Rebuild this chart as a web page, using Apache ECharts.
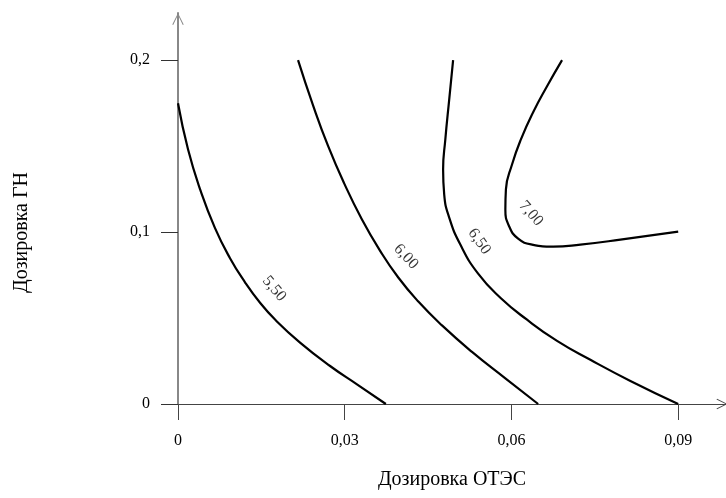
<!DOCTYPE html>
<html>
<head>
<meta charset="utf-8">
<script src="https://cdn.jsdelivr.net/npm/echarts@6/dist/echarts.min.js"></script>
<style>
  html, body { margin: 0; padding: 0; background: #fff; }
  #chart { width: 726px; height: 498px; }
</style>
</head>
<body>
<div id="chart"></div>
<script>
// contour lines: [ОТЭС, ГН]
var line550 = [[0, 0.1749], [0.0018, 0.1481], [0.00396, 0.125], [0.00666, 0.1023], [0.00936, 0.0848],
	[0.01206, 0.0708], [0.01476, 0.0589], [0.01746, 0.0491], [0.02196, 0.0357], [0.02736, 0.0221],
	[0.0324, 0.011], [0.0374, 0]];
var line600 = [[0.0216, 0.2], [0.0243, 0.1737], [0.027, 0.1501], [0.0299, 0.1283], [0.0331, 0.1073],
	[0.0364, 0.0889], [0.0396, 0.0737], [0.0432, 0.0597], [0.0475, 0.0457], [0.0529, 0.0303],
	[0.0589, 0.0149], [0.0648, 0]];
var line650 = [[0.0495, 0.2], [0.0488, 0.1772], [0.0481, 0.1539], [0.0477, 0.1364], [0.0479, 0.1218],
	[0.0488, 0.1084], [0.0508, 0.0927], [0.054, 0.0758], [0.058, 0.0618], [0.0628, 0.049],
	[0.0682, 0.0367], [0.0742, 0.0257], [0.0814, 0.0134], [0.09, 0]];
var line700 = [[0.0691, 0.2], [0.0664, 0.1848], [0.0639, 0.1697], [0.0617, 0.1539], [0.0601, 0.1393],
	[0.059, 0.1248], [0.0589, 0.1131], [0.0596, 0.1032], [0.0612, 0.0962], [0.0637, 0.0927],
	[0.0675, 0.0915], [0.0724, 0.0927], [0.0796, 0.0956], [0.09, 0.1003]];

var levelNames = ['5,50', '6,00', '6,50', '7,00'];
var labelPos = [[0.0173, 0.067], [0.041, 0.0857], [0.0542, 0.0945], [0.0635, 0.1108]];
var labelAngle = [-50, -47, -55, -49];

var xTicks = [0, 0.03, 0.06, 0.09];
var yTicks = [0, 0.1, 0.2];

var serif = '"Liberation Serif", "DejaVu Serif", serif';
var chevron = 'path://M0,10 L5,0 L10,10 L9.2,10.5 L5,1.8 L0.8,10.5 Z';

function fmt(v) {
	return String(+v.toFixed(3)).replace('.', ',');
}

var chart = echarts.init(document.getElementById('chart'));

var contourSeries = [line550, line600, line650, line700].map(function (d, i) {
	return {
		name: levelNames[i],
		type: 'line',
		data: d,
		smooth: 0.5,
		showSymbol: false,
		silent: true,
		lineStyle: { color: '#000', width: 2.2 },
		z: 3
	};
});

var labelSeries = {
	type: 'scatter',
	symbolSize: 0,
	silent: true,
	data: labelPos.map(function (p, i) {
		return {
			value: p,
			label: {
				show: true,
				formatter: levelNames[i],
				rotate: labelAngle[i],
				position: 'inside',
				color: '#000',
				fontFamily: serif,
				fontSize: 16
			}
		};
	}),
	z: 4
};

var option = {
	backgroundColor: '#fff',
	animation: false,
	grid: { left: 178, right: 0, top: 13, bottom: 94 },
	xAxis: {
		type: 'value',
		min: 0,
		max: 0.0986,
		name: 'Дозировка ОТЭС',
		nameLocation: 'middle',
		nameGap: 66,
		nameTextStyle: { fontFamily: serif, fontSize: 20, color: '#000' },
		splitLine: { show: false },
		axisLine: {
			show: true,
			onZero: false,
			symbol: ['none', chevron],
			symbolSize: [22, 11],
			symbolOffset: [0, -4],
			lineStyle: { color: '#444', width: 1 }
		},
		axisTick: {
			show: true,
			length: 16,
			customValues: xTicks,
			lineStyle: { color: '#444' }
		},
		axisLabel: {
			customValues: xTicks,
			margin: 29,
			fontFamily: serif,
			fontSize: 16,
			color: '#000',
			formatter: fmt
		}
	},
	yAxis: {
		type: 'value',
		min: 0,
		max: 0.2274,
		name: 'Дозировка ГН',
		nameLocation: 'middle',
		nameGap: 146,
		nameRotate: 90,
		nameTextStyle: { fontFamily: serif, fontSize: 20, color: '#000', padding: [0, 48, 0, 0] },
		splitLine: { show: false },
		axisLine: {
			show: true,
			onZero: false,
			symbol: ['none', chevron],
			symbolSize: [18, 12],
			symbolOffset: [0, -6],
			lineStyle: { color: '#888', width: 2 }
		},
		axisTick: {
			show: true,
			length: 17,
			customValues: yTicks,
			lineStyle: { color: '#333' }
		},
		axisLabel: {
			customValues: yTicks,
			margin: 28,
			fontFamily: serif,
			fontSize: 16,
			color: '#000',
			formatter: fmt
		}
	},
	series: contourSeries.concat([labelSeries])
};

chart.setOption(option);
</script>
</body>
</html>
